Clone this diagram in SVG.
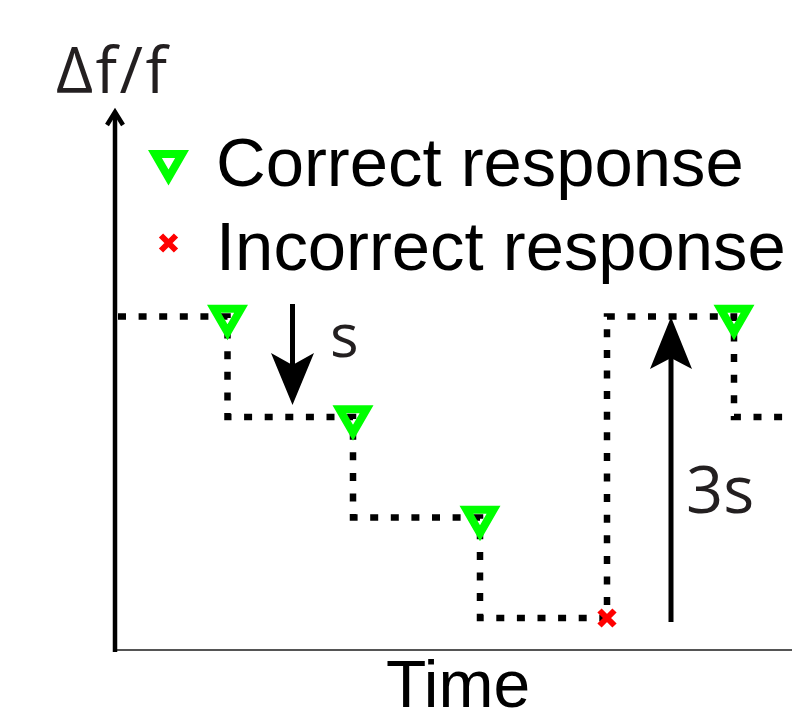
<svg xmlns="http://www.w3.org/2000/svg" width="792" height="722" viewBox="0 0 792 722">
  <defs>
    <style>
      .axis { stroke: #000; stroke-width: 4.5; fill: none; }
      .xaxis { stroke: #555; stroke-width: 2; fill: none; }
      .steps { stroke: #000; stroke-width: 6.5; fill: none; stroke-dasharray: 8 12.6; }
      .ok { fill: none; stroke: #00ff00; stroke-width: 8; stroke-linejoin: miter; }
      .bad { stroke: #ff0000; stroke-width: 6; fill: none; }
      .shaft { stroke: #000; stroke-width: 5; fill: none; }
      .head { fill: #000; }
      .lab { font-family: "Open Sans", "DejaVu Sans", sans-serif; fill: #231f20; }
      .leg { font-family: "Liberation Sans", Arial, sans-serif; fill: #000; }
    </style>
    <!-- hollow down-pointing triangle, centred on its centroid -->
    <path id="tri" class="ok" d="M-13.56,-7.83 L13.56,-7.83 L0,15.66 Z"/>
    <!-- small cross for an incorrect response -->
    <path id="cross" class="bad" d="M-7.5,-7.5 L7.5,7.5 M7.5,-7.5 L-7.5,7.5"/>
  </defs>

  <g id="axes">
    <line class="xaxis" x1="117" y1="650" x2="792" y2="650"/>
    <line class="axis" x1="115" y1="113" x2="115" y2="652"/>
    <polyline class="axis" stroke-width="3" points="107,125 115,112 123,125"/>
  </g>

  <g id="connectors">
    <path class="steps" d="M118,316.5 H227.5 V417 H353 V517.5 H480 V618 H607 V316.5 H734 V417 H792"/>
    <g id="step-arrow-down">
      <line class="shaft" x1="292.5" y1="304" x2="292.5" y2="367"/>
      <polygon class="head" points="292.5,405 271,353 292.5,365 314,353"/>
    </g>
    <g id="step-arrow-up">
      <line class="shaft" x1="671" y1="622" x2="671" y2="356"/>
      <polygon class="head" points="671,317 650,369 671,358 692,369"/>
    </g>
  </g>

  <g id="responses">
    <use href="#tri" x="227.5" y="316.5"/>
    <use href="#tri" x="353" y="417"/>
    <use href="#tri" x="480" y="517.5"/>
    <use href="#cross" x="607" y="618"/>
    <use href="#tri" x="734" y="316.5"/>
  </g>

  <g id="legend">
    <use href="#tri" x="168.5" y="161.8"/>
    <text class="leg" x="216" y="186" font-size="68.8">Correct response</text>
    <use href="#cross" x="168.5" y="243"/>
    <text class="leg" x="216" y="270" font-size="68.8">Incorrect response</text>
  </g>

  <g id="labels">
    <text class="lab" x="56" y="93" font-size="64" textLength="111" lengthAdjust="spacing">Δf/f</text>
    <text class="lab" x="330" y="357" font-size="60">s</text>
    <text class="lab" x="686" y="513" font-size="65">3s</text>
    <text class="leg" x="386" y="707" font-size="66">Time</text>
  </g>
</svg>
